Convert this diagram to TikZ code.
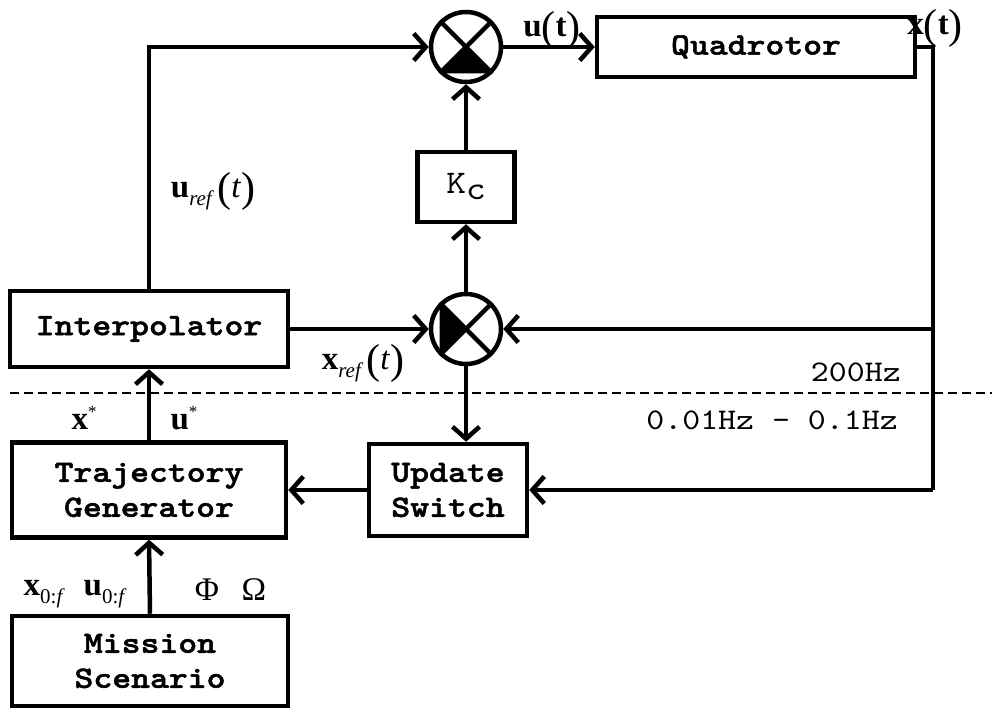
\documentclass[tikz,border=0pt]{standalone}
\usepackage{fontspec}
\setmainfont{Liberation Serif}
\newfontfamily\courbf[Extension=.otf,FakeStretch=1.16,FakeBold=1.6]{lmmonolt10-bold}
\newfontfamily\cour[Extension=.otf,FakeStretch=1.14]{lmmono10-regular}
\usetikzlibrary{arrows.meta}

% enlarged parentheses for signal labels
\newcommand\myLP{\raisebox{-4pt}{\fontsize{42}{42}\selectfont(}}
\newcommand\myRP{\raisebox{-4pt}{\fontsize{42}{42}\selectfont)}}
\newcommand\mySub[1]{\raisebox{-8pt}{\fontsize{21}{21}\selectfont #1}}
\newcommand\mySup[1]{\raisebox{12pt}{\fontsize{17}{17}\selectfont #1}}

\begin{document}
\begin{tikzpicture}[x=1pt,y=-1pt,line width=4.5pt,
  blk/.style={draw,rectangle,inner sep=0pt,align=center,
    font=\courbf\fontsize{31}{35}\selectfont},
  sumj/.style={draw,circle,minimum size=70pt,inner sep=0pt},
  sig/.style={-{Straight Barb[length=12pt,width=27pt,line width=4.5pt]}},
  lbl/.style={inner sep=0pt,font=\fontsize{33}{35}\selectfont},
  freq/.style={inner sep=0pt,font=\cour\fontsize{30}{32}\selectfont}]

\useasboundingbox (0,0) rectangle (992,708);

% blocks
\node[blk,minimum width=318pt,minimum height=60pt] (quad) at (756,47) {Quadrotor};
\node[blk,minimum width=97pt,minimum height=70pt,font=\cour\fontsize{33}{35}\selectfont]
  (kc) at (466,187) {K\raisebox{-6pt}{c}};
\node[blk,minimum width=278pt,minimum height=76pt] (interp) at (149,329) {Interpolator};
\node[blk,minimum width=274pt,minimum height=95pt] (tg) at (149,490) {Trajectory\\Generator};
\node[blk,minimum width=158pt,minimum height=92pt] (us) at (448,490) {Update\\Switch};
\node[blk,minimum width=276pt,minimum height=90pt] (ms) at (150,661) {Mission\\Scenario};

% summing junctions
\node[sumj] (s1) at (466,47) {};
\node[sumj] (s2) at (466,329) {};
\foreach \s in {s1,s2}{
  \draw (\s.45) -- (\s.-135);
  \draw (\s.135) -- (\s.-45);
}
\fill (s1.center) -- (s1.-45) -- (s1.-135) -- cycle;
\fill (s2.center) -- (s2.135) -- (s2.-135) -- cycle;

% signal paths
\coordinate (fbtop) at (933,47);
\coordinate (fbmid) at (933,329);
\coordinate (fbbot) at (933,490);
\draw[sig] (interp.north) |- (s1.west);
\draw[sig] (s1.east) -- (quad.west);
\draw[sig] (kc.north) -- (s1.south);
\draw[sig] (s2.north) -- (kc.south);
\draw[sig] (interp.east) -- (s2.west);
\draw[sig] (s2.south) -- (s2.south |- us.north);
\draw (quad.east) -- (fbtop) -- (fbbot);
\draw[sig] (fbbot) -- (us.east);
\draw[sig] (fbmid) -- (s2.east);
\draw[sig] (us.west) -- (tg.east);
\draw[sig] (tg.north) -- (interp.south);
\draw[sig] (ms.north) -- (tg.south);

% rate boundary
\draw[line width=1.6pt,dash pattern=on 9pt off 5pt] (10,393) -- (992,393);
\node[freq,anchor=base east] (f1) at (903,381) {200Hz};
\node[freq,anchor=base east] (f2) at (900,429) {0.01Hz – 0.1Hz};

% signal labels
\node[lbl] (ut) at (552,30) {\textbf{u}\myLP\textbf{t}\myRP};
\node[lbl] (xt) at (935,28) {\textbf{x}\myLP\textbf{t}\myRP};
\node[lbl] (uref) at (213,191) {\textbf{u}\mySub{\itshape ref}\,\myLP\textit{t}\myRP};
\node[lbl] (xref) at (363,363) {\textbf{x}\mySub{\itshape ref}\,\myLP\textit{t}\myRP};
\node[lbl] (xs) at (84,418) {\textbf{x}\mySup{*}};
\node[lbl] (us2) at (184,418) {\textbf{u}\mySup{*}};
\node[lbl] (x0f) at (43,594) {\textbf{x}\mySub{0:\itshape f}};
\node[lbl] (u0f) at (104,594) {\textbf{u}\mySub{0:\itshape f}};
\node[lbl] (phi) at (207,590) {Φ};
\node[lbl] (omg) at (254,590) {Ω};
\end{tikzpicture}
\end{document}
